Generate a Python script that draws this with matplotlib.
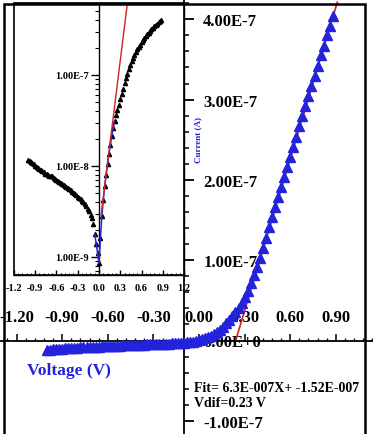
import matplotlib
matplotlib.use('Agg')
import matplotlib.pyplot as plt
from matplotlib.patches import Rectangle
from matplotlib.ticker import MultipleLocator, FixedLocator, LogLocator, NullFormatter
import numpy as np

plt.rcParams['font.family'] = ['Liberation Serif', 'DejaVu Serif']
plt.rcParams['font.weight'] = 'bold'

# Dados (tensão em V, corrente em nA)
tensao = [
    -1.00, -0.98, -0.96, -0.94, -0.92, -0.90, -0.88, -0.86, -0.84, -0.82,
    -0.80, -0.78, -0.76, -0.74, -0.72, -0.70, -0.68, -0.66, -0.64, -0.62,
    -0.60, -0.58, -0.56, -0.54, -0.52, -0.50, -0.48, -0.46, -0.44, -0.42,
    -0.40, -0.38, -0.36, -0.34, -0.32, -0.30, -0.28, -0.26, -0.24, -0.22,
    -0.20, -0.18, -0.16, -0.14, -0.12, -0.10, -0.08, -0.06, -0.04, -0.02,
    0.00, 0.02, 0.04, 0.06, 0.08, 0.10, 0.12, 0.14, 0.16, 0.18,
    0.20, 0.22, 0.24, 0.26, 0.28, 0.30, 0.32, 0.34, 0.36, 0.38,
    0.40, 0.42, 0.44, 0.46, 0.48, 0.50, 0.52, 0.54, 0.56, 0.58,
    0.60, 0.62, 0.64, 0.66, 0.68, 0.70, 0.72, 0.74, 0.76, 0.78,
    0.80, 0.82, 0.84, 0.86, 0.88,
]
corrente_nA = [
    -11.6, -11.3, -11.0, -10.7, -10.4, -10.1, -9.8, -9.6, -9.3, -9.1,
    -8.8, -8.5, -8.2, -8.1, -8.0, -7.8, -7.7, -7.7, -7.4, -7.2,
    -7.0, -6.9, -6.7, -6.5, -6.4, -6.2, -6.0, -5.9, -5.7, -5.6,
    -5.4, -5.2, -5.1, -4.9, -4.8, -4.6, -4.5, -4.3, -4.1, -4.0,
    -3.8, -3.6, -3.4, -3.2, -2.9, -2.7, -2.3, -1.8, -1.4, -1.1,
    0.85, 1.6, 2.8, 4.2, 6.0, 8.0, 10.5, 13.5, 17.0, 21.5,
    26, 31, 36, 41, 47, 54, 62, 71, 81, 92,
    103, 115, 128, 141, 154, 166, 179, 191, 204, 216,
    229, 241, 254, 267, 279, 292, 304, 317, 329, 342,
    355, 367, 380, 392, 404,
]

# Ajuste linear (texto do gráfico)
fit_a = 6.3e-7
fit_b = -1.52e-7
fit_v_lim = [0.241, 0.91]

# Reta do ajuste no gráfico log (inset)
inset_fit_v = [0.03, 0.40]
inset_fit_i = [2.9e-9, 6.1e-7]
# trecho destacado em azul no inset
inset_blue_lim = [-0.07, 0.22]

main_xticks = [-1.2, -0.9, -0.6, -0.3, 0.0, 0.3, 0.6, 0.9]
main_xlabels = ['-1.20', '-0.90', '-0.60', '-0.30', '0.00', '0.30', '0.60', '0.90']
main_yticks = [-1e-7, 0, 1e-7, 2e-7, 3e-7, 4e-7]
main_ylabels = ['-1.00E-7', '0.00E+0', '1.00E-7', '2.00E-7', '3.00E-7', '4.00E-7']
inset_xticks = [-1.2, -0.9, -0.6, -0.3, 0.0, 0.3, 0.6, 0.9, 1.2]
inset_xlabels = ['-1.2', '-0.9', '-0.6', '-0.3', '0.0', '0.3', '0.6', '0.9', '1.2']
inset_yticks = [1e-9, 1e-8, 1e-7]
inset_ylabels = ['1.00E-9', '1.00E-8', '1.00E-7']

v = np.array(tensao)
i = np.array(corrente_nA) * 1e-9

AZUL = '#2323dc'
W, H = 373, 435

fig = plt.figure(figsize=(W / 100, H / 100), dpi=100)
fig.patch.set_facecolor('white')

# ---- gráfico principal ----
ax = fig.add_axes([0, 0, 1, 1])
ax.set_xlim(-199 / 152, (W - 199) / 152)
ax.set_ylim(-(H - 341.5) / 80.3e7, 341.5 / 80.3e7)
ax.patch.set_alpha(0)

ax.spines['left'].set_visible(False)
ax.spines['bottom'].set_visible(False)
ax.spines['top'].set_position(('data', 0))
ax.spines['right'].set_position(('data', -0.1))
for s in ['top', 'right']:
    ax.spines[s].set_linewidth(1.3)

ax.xaxis.set_ticks_position('top')
ax.yaxis.set_ticks_position('right')
ax.xaxis.set_major_locator(FixedLocator(main_xticks))
ax.set_xticklabels(main_xlabels)
ax.xaxis.set_minor_locator(MultipleLocator(0.06))
ax.yaxis.set_major_locator(FixedLocator(main_yticks))
ax.set_yticklabels(main_ylabels)
ax.yaxis.set_minor_locator(MultipleLocator(0.2e-7))
ax.tick_params(axis='x', which='major', direction='out', length=5, width=1.1,
               pad=6, labelsize=12)
ax.tick_params(axis='x', which='minor', direction='out', length=2.5, width=1)
ax.tick_params(axis='y', which='major', direction='out', length=7, width=1.3,
               pad=7, labelsize=12)
ax.tick_params(axis='y', which='minor', direction='out', length=3.5, width=1.1)

ax.plot(v, i, linestyle='none', marker='^', ms=6.5, color=AZUL, mec=AZUL, zorder=3)
fv = np.array(fit_v_lim)
ax.plot(fv, fit_a * fv + fit_b, color='#d42020', lw=1.2, zorder=2.5)

fig.text(69 / W, 1 - 371 / H, 'Voltage (V)', color=AZUL, fontsize=12.5,
         fontweight='bold', ha='center', va='center')
fig.text(198 / W, 1 - 140 / H, 'Current (A)', color=AZUL, fontsize=6.5,
         fontweight='bold', ha='center', va='center', rotation=90)
fig.text(194 / W, 1 - 388 / H, 'Fit= 6.3E-007X+ -1.52E-007', fontsize=10,
         fontweight='bold', ha='left', va='center')
fig.text(194 / W, 1 - 404 / H, 'Vdif=0.23 V', fontsize=10,
         fontweight='bold', ha='left', va='center')

# ---- inset (escala log) ----
ins = fig.add_axes([14 / W, 1 - 276 / H, 170 / W, 272 / H], zorder=5)
ins.set_facecolor('white')
ins.set_yscale('log')
ins.set_xlim(-1.2, 1.2)
ins.set_ylim(10 ** -9.198, 10 ** -6.209)
ins.spines['left'].set_position(('data', 0))
for s in ins.spines.values():
    s.set_linewidth(1.0)
ins.add_patch(Rectangle((0, 0), 1, 1, transform=ins.transAxes, fill=False,
                        lw=1.2, ec='black', clip_on=False, zorder=6))

ins.xaxis.set_major_locator(FixedLocator(inset_xticks))
ins.set_xticklabels(inset_xlabels)
ins.xaxis.set_minor_locator(MultipleLocator(0.06))
ins.yaxis.set_major_locator(FixedLocator(inset_yticks))
ins.set_yticklabels(inset_ylabels)
ins.yaxis.set_minor_locator(LogLocator(base=10, subs=np.arange(2, 10)))
ins.yaxis.set_minor_formatter(NullFormatter())
ins.tick_params(axis='x', which='major', direction='in', length=3.5, width=1,
                pad=6, labelsize=7.5)
ins.tick_params(axis='x', which='minor', direction='in', length=1.8, width=0.8)
ins.tick_params(axis='y', which='major', direction='out', length=5.5, width=1,
                pad=1.5, labelsize=7.5)
ins.tick_params(axis='y', which='minor', direction='out', length=3, width=0.8)

ins.plot(v, np.abs(i), linestyle='none', marker='^', ms=3, color='black', zorder=3)
sel = (v >= inset_blue_lim[0]) & (v <= inset_blue_lim[1])
ins.plot(v[sel], np.abs(i)[sel], color=AZUL, lw=1.1, zorder=4)
ins.plot(inset_fit_v, inset_fit_i, color='#d42020', lw=1.0, zorder=4)

# moldura externa
fig.patches.append(Rectangle((4 / W, -0.02), (365 - 4) / W, 1.02 - 4.5 / H,
                             transform=fig.transFigure, fill=False, lw=1.8,
                             ec='black', zorder=10))

fig.savefig('out.png', dpi=100)
